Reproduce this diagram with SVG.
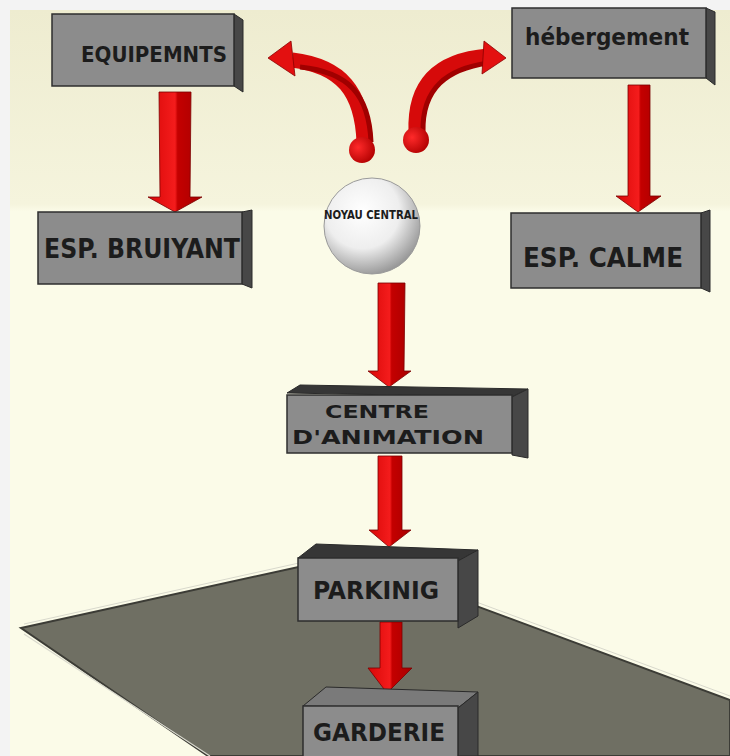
<svg xmlns="http://www.w3.org/2000/svg" width="730" height="756" viewBox="0 0 730 756">
<defs>
<linearGradient id="bg" x1="0" y1="0" x2="0" y2="1">
<stop offset="0" stop-color="#eeecd0"/>
<stop offset="0.26" stop-color="#f5f4dd"/>
<stop offset="0.27" stop-color="#fbfbe8"/>
<stop offset="1" stop-color="#fbfbe8"/>
</linearGradient>
<radialGradient id="sph" cx="0.4" cy="0.35" r="0.7">
<stop offset="0" stop-color="#ffffff"/>
<stop offset="0.55" stop-color="#eeeeee"/>
<stop offset="1" stop-color="#8f8f8f"/>
</radialGradient>
<radialGradient id="ball" cx="0.35" cy="0.4" r="0.7">
<stop offset="0" stop-color="#ff2a2a"/>
<stop offset="1" stop-color="#b00000"/>
</radialGradient>
<linearGradient id="shaft" x1="0" y1="0" x2="1" y2="0">
<stop offset="0" stop-color="#d80808"/>
<stop offset="0.5" stop-color="#f41c1c"/>
<stop offset="0.55" stop-color="#c40000"/>
<stop offset="1" stop-color="#a80000"/>
</linearGradient>
</defs>
<style>
.front{fill:#8c8c8c;stroke:#2e2e2e;stroke-width:1.5}
.side{fill:#474747;stroke:#2a2a2a;stroke-width:1}
.top{fill:#363636;stroke:#2a2a2a;stroke-width:1}
.lbl{font-family:"DejaVu Sans Condensed","DejaVu Sans",sans-serif;font-weight:bold;fill:#1c1c1c;text-anchor:middle}
.arr{fill:url(#shaft);stroke:#7a0000;stroke-width:0.8}
.curve{fill:none;stroke:#d60a0a;stroke-width:15;stroke-linecap:butt}
.curve2{fill:none;stroke:#a00000;stroke-width:5}
.head{fill:#e31010;stroke:#8a0000;stroke-width:0.8}
</style>
<rect x="0" y="0" width="730" height="756" fill="#f3f3f3"/>
<rect x="10" y="10" width="720" height="746" fill="url(#bg)"/>
<g id="floor">
<polygon points="21,628 344,557 730,700 730,756 208,756" fill="#6f6f63" stroke="#3c3c36" stroke-width="2"/>
<polyline points="24,634 210,756" fill="none" stroke="#d8d8cc" stroke-width="1.2"/>
<polyline points="24,624 344,553 730,696" fill="none" stroke="#d8d8cc" stroke-width="1"/>
</g>
<g id="connectors">
<polygon class="arr" points="159,92 191,92 190,197 202,197 175,212 148,197 160,197"/>
<polygon class="arr" points="628,85 650,85 650,196 661,196 638,212 616,196 628,196"/>
<polygon class="arr" points="378,283 405,283 404,371 411,371 389,387 368,371 378,371"/>
<polygon class="arr" points="378,456 402,456 402,530 411,530 389,547 369,530 378,530"/>
<polygon class="arr" points="380,622 402,622 402,668 412,668 387,693 368,668 380,668"/>
<path class="curve" d="M 364 142 C 362 92 342 66 292 60"/>
<path class="curve2" d="M 371 142 C 369 95 349 72 300 67"/>
<polygon class="head" points="268,58 291,41 295,76"/>
<circle cx="362" cy="150" r="13" fill="url(#ball)"/>
<path class="curve" d="M 416 132 C 414 82 440 60 488 56"/>
<path class="curve2" d="M 423 132 C 422 88 447 69 488 63"/>
<polygon class="head" points="506,58 484,41 482,74"/>
<circle cx="416" cy="140" r="13" fill="url(#ball)"/>
</g>
<g id="equipemnts">
<polygon class="side" points="234,14 243,20 243,92 234,86"/>
<rect class="front" x="52" y="14" width="182" height="72"/>
<text class="lbl" x="154" y="62" font-size="22" textLength="146" lengthAdjust="spacingAndGlyphs">EQUIPEMNTS</text>
</g>
<g id="esp-bruiyant">
<polygon class="side" points="242,212 252,210 252,288 242,284"/>
<rect class="front" x="38" y="212" width="204" height="72"/>
<text class="lbl" x="142" y="258" font-size="26" textLength="196" lengthAdjust="spacingAndGlyphs">ESP. BRUIYANT</text>
</g>
<g id="hebergement">
<polygon class="side" points="706,8 715,12 715,85 706,78"/>
<rect class="front" x="512" y="8" width="194" height="70"/>
<text class="lbl" x="607" y="45" font-size="23" textLength="164" lengthAdjust="spacingAndGlyphs">hébergement</text>
</g>
<g id="esp-calme">
<polygon class="side" points="701,213 710,210 710,292 701,288"/>
<rect class="front" x="511" y="213" width="190" height="75"/>
<text class="lbl" x="603" y="267" font-size="27" textLength="160" lengthAdjust="spacingAndGlyphs">ESP. CALME</text>
</g>
<g id="noyau">
<circle cx="372" cy="226" r="48" fill="url(#sph)" stroke="#9a9a9a" stroke-width="1"/>
<text class="lbl" x="371" y="219" font-size="13" textLength="94" lengthAdjust="spacingAndGlyphs">NOYAU CENTRAL</text>
</g>
<g id="centre-animation">
<polygon class="top" points="287,393 300,385 528,389 512,397"/>
<polygon class="side" points="512,397 528,389 528,458 512,455"/>
<rect class="front" x="287" y="395" width="225" height="58"/>
<text class="lbl" x="377" y="418" font-size="18" textLength="104" lengthAdjust="spacingAndGlyphs">CENTRE</text>
<text class="lbl" x="388" y="444" font-size="20" textLength="192" lengthAdjust="spacingAndGlyphs">D'ANIMATION</text>
</g>
<g id="parkinig">
<polygon class="top" points="298,558 316,544 478,550 458,561"/>
<polygon class="side" points="458,561 478,550 478,616 458,628"/>
<rect class="front" x="298" y="558" width="160" height="63"/>
<text class="lbl" x="376" y="599" font-size="24" textLength="126" lengthAdjust="spacingAndGlyphs">PARKINIG</text>
</g>
<g id="garderie">
<polygon points="303,706 326,687 478,692 458,708" fill="#7a7a7a" stroke="#2a2a2a" stroke-width="1"/>
<polygon class="side" points="458,708 478,692 478,756 458,756"/>
<rect class="front" x="303" y="706" width="155" height="52"/>
<text class="lbl" x="379" y="741" font-size="25" textLength="132" lengthAdjust="spacingAndGlyphs">GARDERIE</text>
</g>
</svg>
